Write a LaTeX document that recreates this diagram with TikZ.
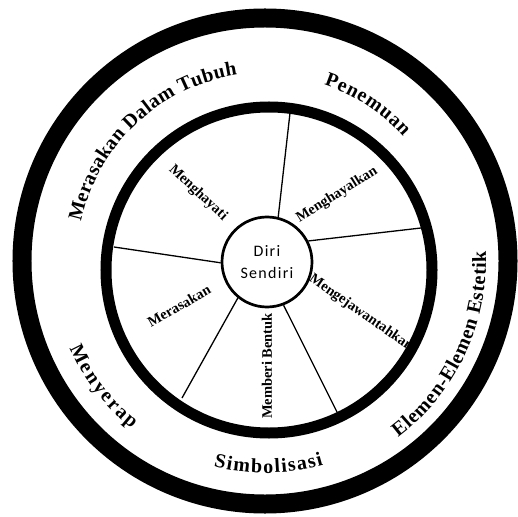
\documentclass[tikz,border=0pt]{standalone}
\usepackage{fontspec}
\setmainfont{Liberation Serif}
\newfontfamily\carlito[LetterSpace=8]{Carlito}
\usetikzlibrary{decorations.text}
\newcommand{\bandfont}{\fontsize{20}{20}\selectfont\bfseries}
\tikzset{
  bandtext/.style={decorate,decoration={text along path,text align={fit to path},text={|\bandfont|#1}}},
  seglabel/.style={font=\fontsize{14.5}{15}\selectfont\bfseries,inner sep=0pt},
  spoke/.style={line width=1.3pt},
}
\begin{document}
\begin{tikzpicture}[x=1pt,y=1pt]
\useasboundingbox (-265,-255) rectangle (253,261);
% coordinates
\coordinate (O)  at (  0,   0);
\coordinate (Oi) at (  4,  -9);
\coordinate (R1) at ( 25, 148);
\coordinate (R2) at (156,  33);
\coordinate (R3) at ( 72,-151);
\coordinate (R4) at (-83,-137);
\coordinate (R5) at (-151, 14);
% rings
\draw[line width=19pt] (O)  circle (243);
\draw[line width=11pt] (Oi) circle (163);
% centre
\node[circle,draw,line width=2.7pt,fill=white,minimum size=90pt,align=center,
      font=\carlito\fontsize{16}{22}\selectfont] (diri) at (2,-1) {Diri\\Sendiri};
% spokes
\draw[spoke] (diri.76)  -- (R1);
\draw[spoke] (diri.27)  -- (R2);
\draw[spoke] (diri.-69) -- (R3);
\draw[spoke] (diri.-129) -- (R4);
\draw[spoke] (diri.181) -- (R5);
% inner labels
\node[seglabel,rotate=-43] (hayati)   at (-67, 68)  {Menghayati};
\node[seglabel,rotate=32]  (hayal)    at ( 72, 66)  {Menghayalkan};
\node[seglabel,rotate=-35] (jawantah) at ( 96,-52)  {Mengejawantahkan};
\node[seglabel,rotate=90]  (bentuk)   at (  2,-105) {Memberi Bentuk};
\node[seglabel,rotate=30]  (rasa)     at (-86,-45)  {Merasakan};
% band labels
\path[bandtext={Merasakan Dalam Tubuh}] (168:188) arc[start angle=168,end angle=98.5,radius=188];
\path[bandtext={Penemuan}] (71.5:186) arc[start angle=71.5,end angle=42,radius=186];
\path[bandtext={Elemen-Elemen Estetik}] (-53:221) arc[start angle=-53,end angle=2.5,radius=221];
\path[bandtext={Simbolisasi}] (-104:212) arc[start angle=-104,end angle=-74,radius=212];
\path[bandtext={Menyerap}] (-156:214) arc[start angle=-156,end angle=-128.5,radius=214];
\end{tikzpicture}
\end{document}
